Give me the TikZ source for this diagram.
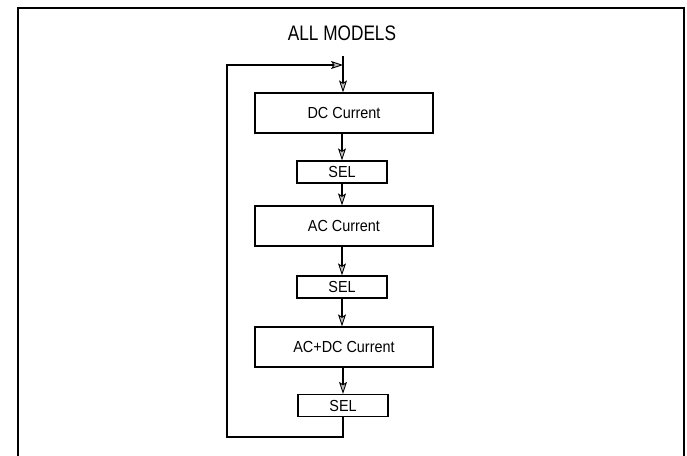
\documentclass[tikz,border=0pt]{standalone}
\usepackage{fontspec}
\setmainfont{Liberation Sans}
\newfontfamily\titlefont[FakeStretch=0.82]{Liberation Sans}
\newfontfamily\boxfont[FakeStretch=0.9]{Liberation Sans}
\usetikzlibrary{arrows.meta}
\begin{document}
\begin{tikzpicture}[x=1pt,y=-1pt,
  every node/.style={inner sep=0pt},
  bigbox/.style={draw, line width=1.3pt, minimum width=178pt, minimum height=40pt, font=\boxfont\fontsize{16}{19}\selectfont},
  selbox/.style={draw, line width=1.3pt, minimum width=90pt, minimum height=22pt, font=\boxfont\fontsize{16}{19}\selectfont},
  flow/.style={line width=1.1pt, -{Stealth[length=12pt,width=8pt,inset=2.5pt,fill=gray!50,line width=0.9pt]}},
  plain/.style={line width=1.1pt}]
\useasboundingbox (0,0) rectangle (687,455);
\draw[line width=1.3pt] (18,460) -- (18,8) -- (684,8) -- (684,460);
\node[font=\titlefont\fontsize{21}{24}\selectfont] (title) at (342,33) {ALL MODELS};
\coordinate (top) at (343,56);
\coordinate (join) at (343,65);
\node[bigbox] (dc) at (344,113) {DC Current};
\node[selbox] (sel1) at (342,172) {SEL};
\node[bigbox] (ac) at (344,226) {AC Current};
\node[selbox] (sel2) at (342,287) {SEL};
\node[bigbox] (acdc) at (344,347) {AC+DC Current};
\node[selbox] (sel3) at (343,405.5) {SEL};
\coordinate (bot) at (343,437);
\coordinate (bl) at (227,437);
\coordinate (tl) at (227,65);
\draw[plain] (top) -- (join);
\draw[flow] (join) -- (join |- dc.north);
\draw[flow] (dc.south -| sel1) -- (sel1.north);
\draw[flow] (sel1.south) -- (sel1.south |- ac.north);
\draw[flow] (ac.south -| sel2) -- (sel2.north);
\draw[flow] (sel2.south) -- (sel2.south |- acdc.north);
\draw[flow] (acdc.south -| sel3) -- (sel3.north);
\draw[flow] (sel3.south) -- (bot) -- (bl) -- (tl) -- (join);
\end{tikzpicture}
\end{document}
